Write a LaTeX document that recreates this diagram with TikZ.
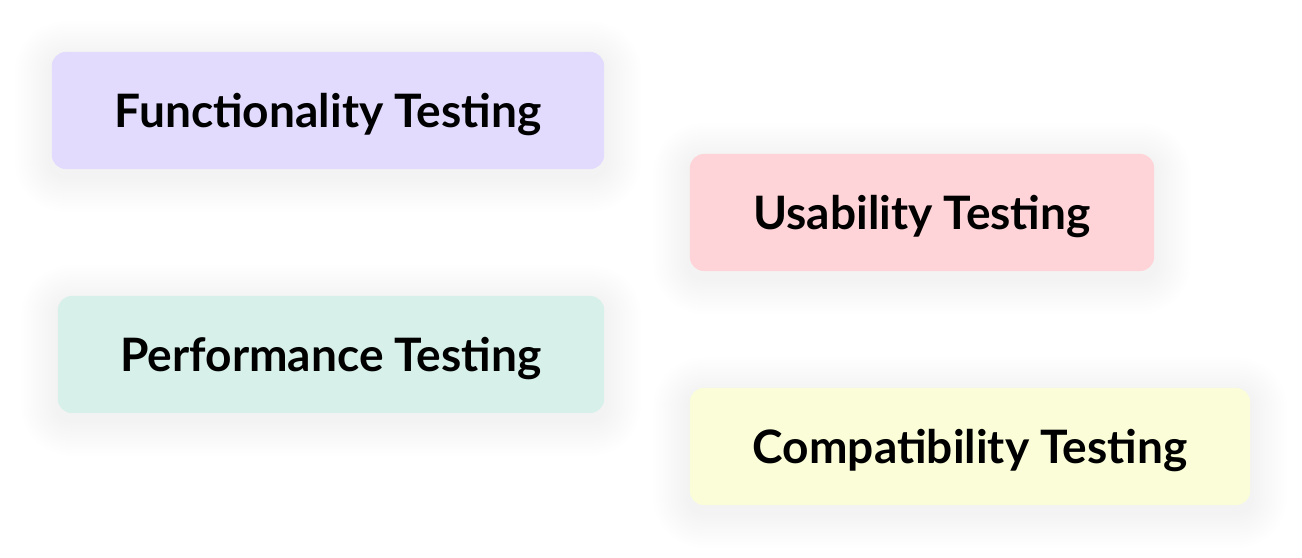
\documentclass[tikz,border=0pt]{standalone}
\usepackage{fontspec}
\setmainfont{Lato}
\usepackage{tikz}
\usetikzlibrary{backgrounds}
\definecolor{Lavender}{HTML}{E2DBFE}
\definecolor{Blush}{HTML}{FFD4D8}
\definecolor{Mint}{HTML}{D7F0EA}
\definecolor{Cream}{HTML}{FAFDD8}
\definecolor{ShadowBlue}{HTML}{6E7592}

\begin{document}
\begin{tikzpicture}[
    x=0.01cm, y=-0.01cm,
    testbox/.style={
        draw=none, rounded corners=0.14cm,
        minimum height=1.17cm, align=center, inner sep=0pt,
        text depth=0pt,
        font=\fontsize{13.1}{16}\selectfont\bfseries
    },
    softshadow/.style={fill=ShadowBlue, opacity=0.0045},
]

\useasboundingbox (0,0) rectangle (1302,558);

%% left column
\node[testbox, fill=Lavender, minimum width=5.52cm] (func) at (328,110.5)
    {Functionality Testing};
\node[testbox, fill=Mint, minimum width=5.46cm] (perf) at (331,354.5)
    {Performance Testing};

%% right column
\node[testbox, fill=Blush, minimum width=4.64cm] (usab) at (922,212.5)
    {Usability Testing};
\node[testbox, fill=Cream, minimum width=5.60cm] (compat) at (970,446.5)
    {Compatibility Testing};

%% soft shadows behind the boxes
\begin{pgfonlayer}{background}
\fill[white] (0,0) rectangle (1302,558);
\foreach \nd in {func,perf,usab,compat}
    \foreach \r in {1,...,12}
        \fill[softshadow, rounded corners=0.14cm+\r*0.03cm]
            ([shift={(-\r*0.03cm,\r*0.03cm-0.06cm)}]\nd.north west) rectangle
            ([shift={(\r*0.03cm,-\r*0.03cm-0.06cm)}]\nd.south east);
\end{pgfonlayer}

\end{tikzpicture}
\end{document}
